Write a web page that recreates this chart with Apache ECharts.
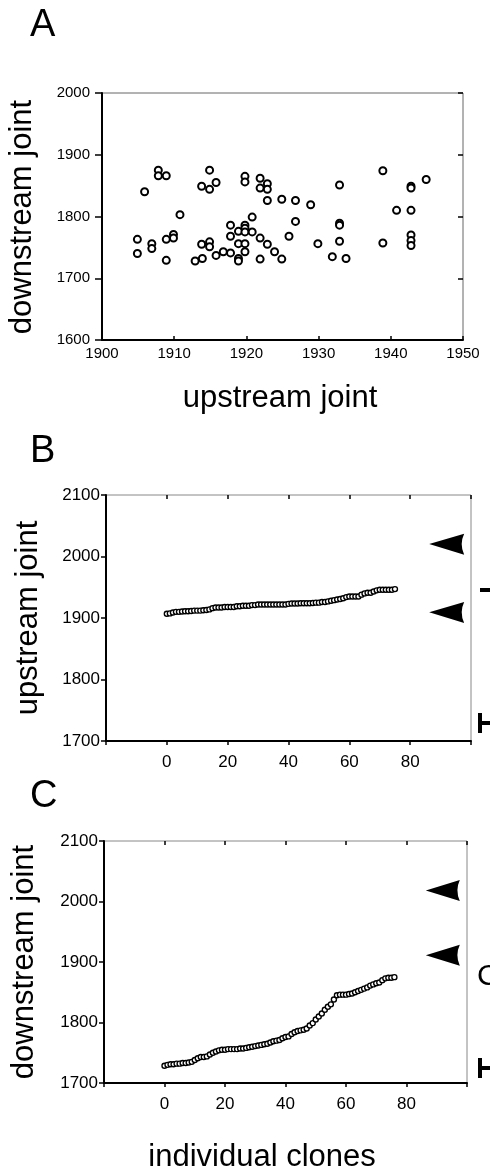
<!DOCTYPE html>
<html>
<head>
<meta charset="utf-8">
<script src="https://cdn.jsdelivr.net/npm/echarts@6/dist/echarts.min.js"></script>
<style>
html,body{margin:0;padding:0;background:#fff;}
#c{width:490px;height:1173px;}
</style>
</head>
<body>
<div id="c"></div>
<script>
// Panel A: upstream vs downstream joint positions
var upstreamA = [1904.9,1904.9,1905.9,1906.9,1906.9,1907.8,1907.8,1908.9,1908.9,1908.9,1909.9,1909.9,1910.8,1912.9,1913.9,1913.8,1914.9,1914.9,1913.8,1914.9,1914.9,1915.8,1915.8,1916.8,1917.8,1917.8,1917.8,1918.9,1918.9,1918.9,1918.9,1919.8,1919.8,1919.8,1919.8,1919.8,1919.8,1919.8,1920.8,1920.8,1921.9,1921.9,1921.9,1921.9,1922.9,1922.9,1922.9,1922.9,1923.9,1924.9,1924.9,1925.9,1926.8,1926.8,1928.9,1929.9,1931.9,1932.9,1932.9,1932.9,1932.9,1933.8,1938.9,1938.9,1940.8,1942.8,1942.8,1942.8,1942.8,1942.8,1942.8,1944.9];
var downstreamA = [1763,1740,1840,1756,1748,1875,1866,1866,1763,1729,1771,1765,1803,1728,1732,1849,1875,1844,1755,1759,1751,1855,1737,1743,1741,1786,1768,1776,1756,1732,1728,1865,1856,1786,1781,1775,1756,1743,1799,1775,1862,1846,1765,1731,1853,1844,1826,1755,1743,1828,1731,1768,1826,1792,1819,1756,1735,1851,1789,1786,1760,1732,1874,1757,1810,1849,1846,1810,1770,1761,1753,1860];

// Panel B: upstream joint of individual clones (sorted)
var clonesUp = [1907,1907.5,1909,1910,1910,1910.5,1911,1911,1911.5,1912,1912,1912,1912.5,1913,1914,1916,1917,1917,1917,1918,1918,1918,1918,1919,1919,1920,1920,1920,1921,1921,1922,1922,1922,1922,1922,1922,1922,1922,1922,1922,1923,1923.5,1923.5,1923.5,1924,1924,1924,1924,1924.5,1925,1925,1926,1926,1927,1928,1929,1930,1931,1932,1934,1935,1935,1935,1935,1938,1940,1941,1941,1943,1945,1946,1946,1946,1946,1946,1947];

// Panel C: downstream joint of individual clones (sorted)
var clonesDown = [1728.5,1730,1731,1731,1732,1732,1733,1733,1734,1735,1738,1741,1743,1743,1744,1747,1750,1752,1754,1755,1755,1756,1756,1756,1756,1757,1757,1758,1759,1760,1761,1762,1763,1764,1765,1767,1769,1770,1771,1774,1776,1777,1781,1784,1786,1787,1788,1790,1795,1799,1805,1810,1815,1821,1826,1830,1838,1845,1846,1846,1846,1847,1848,1850,1852,1854,1856,1858,1861,1863,1865,1866,1870,1873,1874,1874,1875];

// Arrowhead marks (positions on y axis)
var arrowsB = [2020, 1909];
var arrowsC = [2018, 1911];
var arrowX = 92;

var xTicksA = [1900, 1950, 10];
var yTicksA = [1600, 2000, 100];
var xTicksBC = [-20, 100, 20];
var yTicksBC = [1700, 2100, 100];

var FONT = 'Liberation Sans, Arial, Helvetica, sans-serif';
var arrowPath = 'path://M0,32 L105,0 Q90,32 105,65 Z';

function pairs(xs, ys){ return xs.map(function(x,i){ return [x, ys[i]]; }); }
function indexed(ys){ return ys.map(function(y,i){ return [i, y]; }); }

var chart = echarts.init(document.getElementById('c'), null, {renderer:'canvas'});

var grids = [
  {left:102, top:93, width:361, height:247},
  {left:106, top:495, width:365, height:246},
  {left:104, top:841, width:363, height:242}
];
grids.forEach(function(g,i){ g.show = true; g.borderColor = i===0 ? '#666' : '#888'; g.borderWidth = 1; g.backgroundColor = 'transparent'; });

var plainFmt = function(v){ return String(v); };
var bcFmt = function(v){ return (v < 0 || v > 80) ? '' : String(v); };

function xAxisDef(gi, t, fs, margin, fmt, tickInside){
  return {
    type:'value', gridIndex:gi, min:t[0], max:t[1], interval:t[2],
    axisLine:{show:true, onZero:false, lineStyle:{color:'#000', width:2}},
    axisTick:{show:true, inside:tickInside, length:4, lineStyle:{color:'#000', width:1.5}},
    axisLabel:{show:true, color:'#000', fontSize:fs, fontFamily:FONT, margin:margin, formatter:fmt,
      showMinLabel:true, showMaxLabel:true, hideOverlap:false},
    splitLine:{show:false}
  };
}
function yAxisDef(gi, t, fs, margin, tickLen){
  return {
    type:'value', gridIndex:gi, min:t[0], max:t[1], interval:t[2],
    axisLine:{show:true, onZero:false, lineStyle:{color:'#000', width:2}},
    axisTick:{show:true, inside:false, length:tickLen, lineStyle:{color:'#000', width:1.5}},
    axisLabel:{show:true, color:'#000', fontSize:fs, fontFamily:FONT, margin:margin, formatter:plainFmt},
    splitLine:{show:false}
  };
}
function innerTicksX(gi, t){
  return {type:'value', gridIndex:gi, min:t[0], max:t[1], interval:t[2],
    axisLine:{show:false, onZero:false}, axisTick:{show:true, inside:true, length:4, lineStyle:{color:'#000', width:1.5}},
    axisLabel:{show:false}, splitLine:{show:false}};
}
function innerTicksY(gi, t){
  return {type:'value', gridIndex:gi, min:t[0], max:t[1], interval:t[2],
    axisLine:{show:false, onZero:false}, axisTick:{show:true, inside:true, length:5, lineStyle:{color:'#000', width:1.5}},
    axisLabel:{show:false}, splitLine:{show:false}};
}

var circleStyleA = {color:'#fff', borderColor:'#000', borderWidth:2, opacity:1};
var circleStyleBC = {color:'#fff', borderColor:'#000', borderWidth:1.4, opacity:1};

var option = {
  animation:false,
  backgroundColor:'#fff',
  grid: grids,
  xAxis: [
    xAxisDef(0, xTicksA, 15, 6, plainFmt, true),
    xAxisDef(1, xTicksBC, 17, 13, bcFmt, false),
    xAxisDef(2, xTicksBC, 17, 13, bcFmt, false),
    innerTicksX(1, xTicksBC),
    innerTicksX(2, xTicksBC)
  ],
  yAxis: [
    yAxisDef(0, yTicksA, 15, 12, 7),
    yAxisDef(1, yTicksBC, 17, 6, 5),
    yAxisDef(2, yTicksBC, 17, 6, 5),
    innerTicksY(0, yTicksA)
  ],
  series: [
    {type:'scatter', xAxisIndex:0, yAxisIndex:0, data:pairs(upstreamA, downstreamA),
      symbol:'circle', symbolSize:7, itemStyle:circleStyleA, emphasis:{disabled:true}},
    {type:'scatter', xAxisIndex:1, yAxisIndex:1, data:indexed(clonesUp),
      symbol:'circle', symbolSize:5, itemStyle:circleStyleBC, emphasis:{disabled:true}},
    {type:'scatter', xAxisIndex:2, yAxisIndex:2, data:indexed(clonesDown),
      symbol:'circle', symbolSize:5, itemStyle:circleStyleBC, emphasis:{disabled:true}},
    {type:'scatter', xAxisIndex:1, yAxisIndex:1, data:arrowsB.map(function(y){return [arrowX,y];}),
      symbol:arrowPath, symbolSize:[35,21], itemStyle:{color:'#000', opacity:1}, emphasis:{disabled:true}},
    {type:'scatter', xAxisIndex:2, yAxisIndex:2, data:arrowsC.map(function(y){return [arrowX,y];}),
      symbol:arrowPath, symbolSize:[34,21], itemStyle:{color:'#000', opacity:1}, emphasis:{disabled:true}}
  ],
  graphic: [
    {type:'text', x:30, y:26, style:{text:'A', font:'38px '+FONT, fill:'#000', textAlign:'left', textVerticalAlign:'middle'}},
    {type:'text', x:30, y:452, style:{text:'B', font:'38px '+FONT, fill:'#000', textAlign:'left', textVerticalAlign:'middle'}},
    {type:'text', x:30, y:797, style:{text:'C', font:'38px '+FONT, fill:'#000', textAlign:'left', textVerticalAlign:'middle'}},
    {type:'text', x:22, y:217, rotation:Math.PI/2, style:{text:'downstream joint', font:'31px '+FONT, fill:'#000', textAlign:'center', textVerticalAlign:'middle'}},
    {type:'text', x:280, y:398, style:{text:'upstream joint', font:'31px '+FONT, fill:'#000', textAlign:'center', textVerticalAlign:'middle'}},
    {type:'text', x:28, y:618, rotation:Math.PI/2, style:{text:'upstream joint', font:'31px '+FONT, fill:'#000', textAlign:'center', textVerticalAlign:'middle'}},
    {type:'text', x:24, y:962, rotation:Math.PI/2, style:{text:'downstream joint', font:'31px '+FONT, fill:'#000', textAlign:'center', textVerticalAlign:'middle'}},
    {type:'text', x:262, y:1157, style:{text:'individual clones', font:'31px '+FONT, fill:'#000', textAlign:'center', textVerticalAlign:'middle'}},
    // cut-off marks at the right edge
    {type:'rect', shape:{x:480, y:588, width:12, height:4}, style:{fill:'#000'}},
    {type:'rect', shape:{x:478, y:713, width:4, height:20}, style:{fill:'#000'}},
    {type:'rect', shape:{x:478, y:721, width:14, height:4}, style:{fill:'#000'}},
    {type:'text', x:477, y:977, style:{text:'C', font:'30px '+FONT, fill:'#000', textAlign:'left', textVerticalAlign:'middle'}},
    {type:'rect', shape:{x:478, y:1058, width:4, height:20}, style:{fill:'#000'}},
    {type:'rect', shape:{x:478, y:1066, width:14, height:4}, style:{fill:'#000'}}
  ]
};
chart.setOption(option);
</script>
</body>
</html>
